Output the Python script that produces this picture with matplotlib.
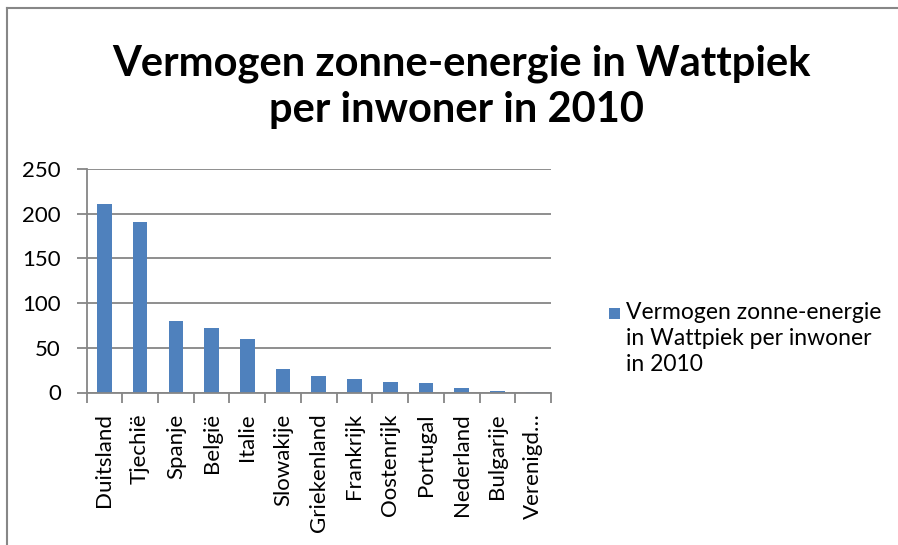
import matplotlib
matplotlib.use("Agg")
import matplotlib.pyplot as plt
from matplotlib.lines import Line2D
from matplotlib.patches import Rectangle

plt.rcParams['font.family'] = ['Lato', 'DejaVu Sans']

countries = ["Duitsland", "Tjechië", "Spanje", "België", "Italie", "Slowakije",
             "Griekenland", "Frankrijk", "Oostenrijk", "Portugal", "Nederland",
             "Bulgarije", "Verenigd…"]
values = [211, 191, 80, 72.5, 59.5, 26, 18.6, 14.9, 12.3, 10.8, 4.5, 1.9, 0.1]
yticks = [0, 50, 100, 150, 200, 250]
title_lines = ["Vermogen zonne-energie in Wattpiek", "per inwoner in 2010"]
legend_label = "Vermogen zonne-energie\nin Wattpiek per inwoner\nin 2010"

W, H = 898, 545
fig = plt.figure(figsize=(W / 100, H / 100), dpi=100)
fig.patch.set_facecolor("white")

ax = fig.add_axes([86.5 / W, 1 - 392.5 / H, (551 - 86.5) / W, (392.5 - 169) / H])
bar_color = "#4F81BD"
grid_color = "#868686"
x = range(len(countries))
ax.bar(x, values, width=0.41, color=bar_color, zorder=3)

ax.set_ylim(0, 250)
ax.set_xlim(-0.5, len(countries) - 0.5)
ax.set_yticks(yticks)
ax.set_yticklabels([str(v) for v in yticks], fontsize=16, color="black")
ax.yaxis.grid(True, color=grid_color, linewidth=1.3, zorder=0)
ax.set_xticks(list(x))
ax.set_xticklabels(countries, rotation=90, fontsize=16, color="black")
ax.tick_params(axis="x", which="major", length=0, pad=15)
ax.set_xticks([i - 0.5 for i in range(len(countries) + 1)], minor=True)
ax.tick_params(axis="x", which="minor", length=7.5, width=1.3, color=grid_color, direction="out")
ax.tick_params(axis="y", which="major", length=7.5, width=1.3, color=grid_color, direction="out", pad=11)

for side in ["top", "right"]:
    ax.spines[side].set_visible(False)
for side in ["left", "bottom"]:
    ax.spines[side].set_color(grid_color)
    ax.spines[side].set_linewidth(1.3)
    ax.spines[side].set_zorder(4)

fig.text(461 / W, 1 - 75 / H, title_lines[0], ha="center", va="baseline", fontsize=30,
         fontweight="bold")
fig.text(457 / W, 1 - 122 / H, title_lines[1], ha="center", va="baseline", fontsize=30,
         fontweight="bold")

# legend
fig.patches.append(Rectangle((609 / W, 1 - 319 / H), 11 / W, 11 / H,
                             transform=fig.transFigure, facecolor=bar_color,
                             edgecolor="none"))
fig.text(626 / W, 1 - 302 / H, legend_label, ha="left", va="top", fontsize=16.5,
         linespacing=1.3)

# chart frame
frame_color = "#878787"
fig.add_artist(Line2D([7 / W, 1.01], [1 - 8 / H, 1 - 8 / H], transform=fig.transFigure,
                      color=frame_color, linewidth=1.5))
fig.add_artist(Line2D([7 / W, 7 / W], [-0.01, 1 - 8 / H], transform=fig.transFigure,
                      color=frame_color, linewidth=1.5))

fig.savefig("out.png", dpi=100, facecolor="white")
